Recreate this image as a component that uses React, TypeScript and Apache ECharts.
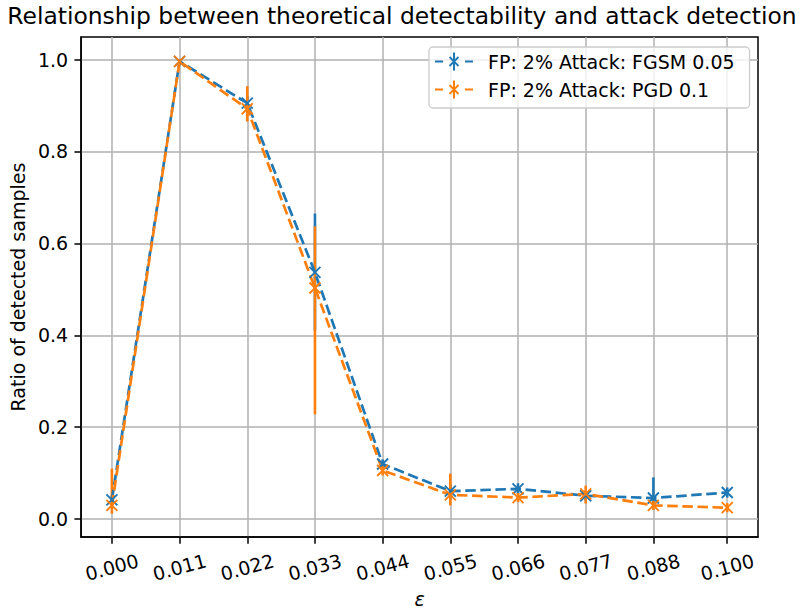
import React, { useEffect, useRef } from "react";
import * as echarts from "echarts";

const xValues = [0, 0.011, 0.022, 0.033, 0.044, 0.055, 0.066, 0.077, 0.088, 0.1];
const xTickLabels = ["0.000", "0.011", "0.022", "0.033", "0.044", "0.055", "0.066", "0.077", "0.088", "0.100"];
const yTicks = [0, 0.2, 0.4, 0.6, 0.8, 1.0];

const seriesNames = ["FP: 2% Attack: FGSM 0.05", "FP: 2% Attack: PGD 0.1"];
const seriesColors = ["#1f77b4", "#ff7f0e"];

const fgsmValues = [0.042, 0.996, 0.905, 0.537, 0.12, 0.061, 0.066, 0.051, 0.046, 0.058];
const fgsmLow = [0.032, 0.99, 0.89, 0.41, 0.11, 0.045, 0.054, 0.04, 0.028, 0.047];
const fgsmHigh = [0.052, 1.0, 0.92, 0.665, 0.13, 0.077, 0.078, 0.062, 0.091, 0.069];

const pgdValues = [0.03, 0.996, 0.893, 0.503, 0.106, 0.053, 0.047, 0.055, 0.03, 0.025];
const pgdLow = [0.012, 0.99, 0.865, 0.228, 0.095, 0.03, 0.037, 0.034, 0.02, 0.015];
const pgdHigh = [0.11, 1.0, 0.942, 0.637, 0.117, 0.099, 0.057, 0.073, 0.04, 0.035];

const FONT = "DejaVu Sans";

const legendIcon =
  "path://M0,8H8V10H0Z M30,8H38V10H30Z M18,0H20V18H18Z " +
  "M15.14,3.86L24.14,12.86L22.86,14.14L13.86,5.14Z " +
  "M24.14,5.14L15.14,14.14L13.86,12.86L22.86,3.86Z";

function errSeries(name: string, color: string, low: number[], high: number[]) {
  return {
    name,
    type: "custom",
    data: xValues.map((x, i) => [x, low[i], high[i]]),
    encode: { x: 0, y: [1, 2] },
    renderItem: (params: any, api: any) => {
      const x = api.value(0);
      const p1 = api.coord([x, api.value(1)]);
      const p2 = api.coord([x, api.value(2)]);
      return {
        type: "line",
        shape: { x1: p1[0], y1: p1[1], x2: p2[0], y2: p2[1] },
        style: { stroke: color, lineWidth: 2.6 },
      };
    },
    z: 2,
  };
}

function lineSeries(name: string, color: string, vals: number[]) {
  return {
    name,
    type: "line",
    data: xValues.map((x, i) => [x, vals[i]]),
    symbol: "path://M0,0L10,10M10,0L0,10",
    symbolSize: 11,
    showAllSymbol: true,
    lineStyle: { color, width: 2.7, type: [10.5, 4.6] },
    itemStyle: { color, borderColor: color, borderWidth: 1.9 },
    z: 2,
  };
}

export default function App() {
  const ref = useRef<HTMLDivElement>(null);
  useEffect(() => {
    document.body.style.margin = "0";
    const chart = echarts.init(ref.current!, null, { renderer: "svg", width: 804, height: 613 });
    const axisText = { color: "#000", fontFamily: FONT, fontSize: 19 };
    chart.setOption({
      animation: false,
      backgroundColor: "#fff",
      title: {
        text: "Relationship between theoretical detectability and attack detection",
        left: "center",
        top: -1,
        textStyle: { fontFamily: FONT, fontSize: 23.4, fontWeight: "normal", color: "#000" },
      },
      legend: {
        orient: "vertical",
        left: 429,
        top: 47,
        padding: [5, 15, 9, 6],
        itemGap: 9,
        itemWidth: 38,
        itemHeight: 18,
        backgroundColor: "rgba(255,255,255,0.8)",
        borderColor: "#cccccc",
        borderWidth: 1.3,
        borderRadius: 4,
        itemStyle: { borderWidth: 0 },
        textStyle: { fontFamily: FONT, fontSize: 19, color: "#000", padding: [0, 0, 0, 10] },
        data: seriesNames.map((n) => ({ name: n, icon: legendIcon })),
      },
      grid: {
        left: 80.7,
        top: 37,
        width: 677.3,
        height: 505,
        show: true,
        borderColor: "#000",
        borderWidth: 1.5,
        backgroundColor: "transparent",
      },
      xAxis: {
        type: "value",
        min: -0.005,
        max: 0.105,
        name: "ε",
        nameLocation: "middle",
        nameGap: 46,
        nameTextStyle: { ...axisText, fontStyle: "italic" },
        axisLine: { show: true, onZero: false, lineStyle: { color: "#000", width: 1.5 } },
        axisTick: { show: true, length: 6.7, customValues: xValues, lineStyle: { color: "#000", width: 1.5 } },
        axisLabel: {
          ...axisText,
          customValues: xValues,
          rotate: 15,
          align: "center",
          verticalAlign: "middle",
          margin: 30,
          formatter: (v: number) => {
            const i = xValues.findIndex((x) => Math.abs(x - v) < 1e-9);
            return i >= 0 ? xTickLabels[i] : "";
          },
        },
        splitLine: { show: true, lineStyle: { color: "#b0b0b0", width: 1.5 } },
      },
      yAxis: {
        type: "value",
        min: -0.039,
        max: 1.049,
        name: "Ratio of detected samples",
        nameLocation: "middle",
        nameGap: 51,
        nameTextStyle: axisText,
        axisLine: { show: true, onZero: false, lineStyle: { color: "#000", width: 1.5 } },
        axisTick: { show: true, length: 6.7, customValues: yTicks, lineStyle: { color: "#000", width: 1.5 } },
        axisLabel: {
          ...axisText,
          customValues: yTicks,
          margin: 13,
          formatter: (v: number) => v.toFixed(1),
        },
        splitLine: { show: true, lineStyle: { color: "#b0b0b0", width: 1.5 } },
      },
      series: [
        errSeries("FGSM error", seriesColors[0], fgsmLow, fgsmHigh),
        lineSeries(seriesNames[0], seriesColors[0], fgsmValues),
        errSeries("PGD error", seriesColors[1], pgdLow, pgdHigh),
        lineSeries(seriesNames[1], seriesColors[1], pgdValues),
      ],
    });
    return () => chart.dispose();
  }, []);
  return <div ref={ref} style={{ position: "absolute", left: 0, top: 0, width: 804, height: 613 }} />;
}
